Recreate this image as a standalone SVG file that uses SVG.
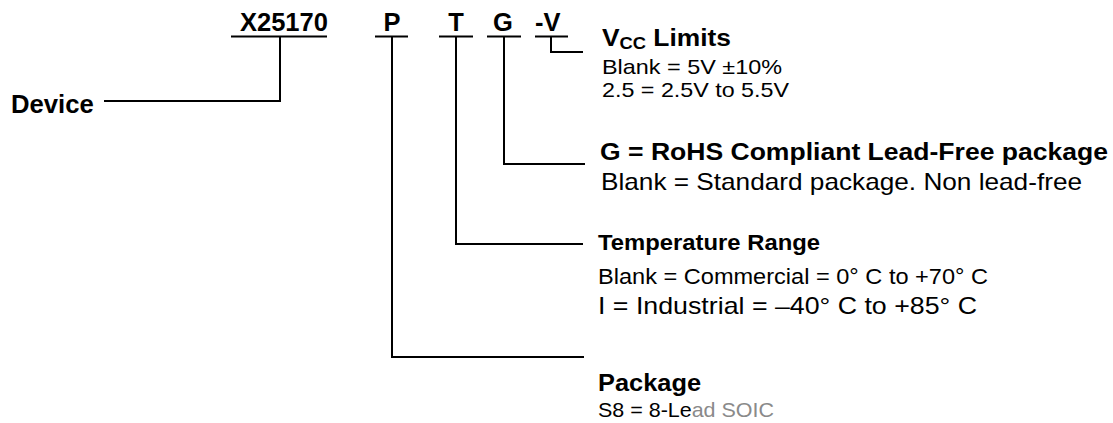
<svg xmlns="http://www.w3.org/2000/svg" width="1113" height="423" viewBox="0 0 1113 423">
<style>
text{font-family:"Liberation Sans",Arial,sans-serif;fill:#000}
.b{font-weight:bold}
.c{text-anchor:middle}
.ln{stroke:#000;stroke-width:2;fill:none}
</style>
<rect width="1113" height="423" fill="#fff"/>
<g id="code">
<text class="b" x="240" y="31" font-size="25.5">X25170</text>
<text class="b c" x="392" y="31" font-size="25.5">P</text>
<text class="b c" x="456" y="31" font-size="25.5">T</text>
<text class="b c" x="503" y="31" font-size="25.5">G</text>
<text class="b" x="535" y="31" font-size="25.5">-V</text>
</g>
<g id="connectors">
<path class="ln" d="M231 36.5H327M375 36.5H408M439 36.5H473M487 36.5H521M535 36.5H568"/>
<path class="ln" d="M280 36.5V101H104"/>
<path class="ln" d="M392 36.5V357H584"/>
<path class="ln" d="M456 36.5V244H583"/>
<path class="ln" d="M504 36.5V164H585"/>
<path class="ln" d="M551 36.5V52H583"/>
</g>
<g id="device">
<text class="b" x="11" y="113" font-size="25.7">Device</text>
</g>
<g id="vcc">
<text class="b" x="602" y="46" font-size="23" textLength="129" lengthAdjust="spacingAndGlyphs">V<tspan font-size="16" dy="3">CC</tspan><tspan dy="-3"> Limits</tspan></text>
<text x="602" y="74" font-size="21" textLength="180" lengthAdjust="spacingAndGlyphs">Blank = 5V ±10%</text>
<text x="602" y="97" font-size="21" textLength="187" lengthAdjust="spacingAndGlyphs">2.5 = 2.5V to 5.5V</text>
</g>
<g id="rohs">
<text class="b" x="600" y="160" font-size="24.5" textLength="508" lengthAdjust="spacingAndGlyphs">G = RoHS Compliant Lead-Free package</text>
<text x="601" y="190" font-size="24" textLength="481" lengthAdjust="spacingAndGlyphs">Blank = Standard package. Non lead-free</text>
</g>
<g id="temp">
<text class="b" x="598" y="250" font-size="22" textLength="222" lengthAdjust="spacingAndGlyphs">Temperature Range</text>
<text x="598" y="284" font-size="21.5" textLength="390" lengthAdjust="spacingAndGlyphs">Blank = Commercial = 0° C to +70° C</text>
<text x="598" y="314" font-size="24" textLength="379" lengthAdjust="spacingAndGlyphs">I = Industrial = –40° C to +85° C</text>
</g>
<g id="package">
<text class="b" x="598" y="391" font-size="24" textLength="103" lengthAdjust="spacingAndGlyphs">Package</text>
<text x="598" y="417" font-size="21" textLength="176" lengthAdjust="spacingAndGlyphs">S8 = 8-Le<tspan fill="#8a8a8a">ad SOIC</tspan></text>
</g>
</svg>
